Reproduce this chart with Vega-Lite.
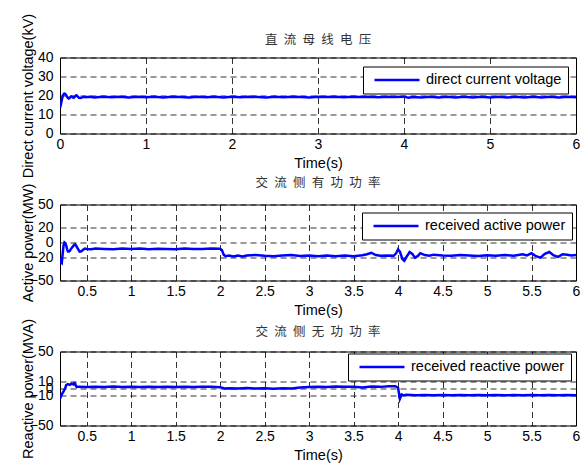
{
  "$schema": "https://vega.github.io/schema/vega-lite/v6.json",
  "padding": {"left": 19, "top": 12.5, "right": 6, "bottom": 4},
  "background": "white",
  "spacing": 71,
  "bounds": "flush",
  "resolve": {"scale": {"color": "independent", "x": "independent", "y": "independent"}, "legend": {"color": "independent"}},
  "config": {
    "font": "Liberation Sans",
    "view": {"stroke": "black", "strokeWidth": 1},
    "axis": {"domain": false, "ticks": false, "tickSize": 0, "labelFontSize": 14, "labelColor": "black", "titleFontSize": 14.5, "titleFontWeight": "normal", "titleColor": "black", "labelFont": "Liberation Sans", "titleFont": "Liberation Sans", "grid": true, "gridColor": "black", "gridDash": [6, 4], "gridWidth": 1, "gridOpacity": 0.8, "labelOverlap": false, "labelFlush": false, "format": ".1~f"},
    "axisX": {"labelPadding": 4, "titlePadding": 5},
    "axisY": {"labelPadding": 7},
    "title": {"font": "Noto Sans CJK SC", "fontSize": 12.5, "fontWeight": "normal", "color": "#333333"},
    "legend": {"orient": "none", "title": null, "strokeColor": "black", "fillColor": "white", "padding": 6, "symbolType": "stroke", "symbolSize": 2025, "symbolStrokeWidth": 2.5, "labelFontSize": 14.5, "labelFont": "Liberation Sans", "labelColor": "black", "labelOffset": 5, "symbolOffset": 4, "labelLimit": 300, "clipHeight": 15}
  },
  "datasets": {
    "dc": [
      {"t":0,"v":13.5},{"t":0.01,"v":15.2},{"t":0.02,"v":17.5},{"t":0.03,"v":19.4},{"t":0.04,"v":20.5},{"t":0.05,"v":21},{"t":0.06,"v":20.9},{"t":0.07,"v":20.3},{"t":0.08,"v":19.5},{"t":0.09,"v":18.8},{"t":0.1,"v":18.4},{"t":0.11,"v":18.6},{"t":0.12,"v":19.1},{"t":0.13,"v":19.5},{"t":0.14,"v":19.4},{"t":0.15,"v":19.0},{"t":0.16,"v":18.8},{"t":0.17,"v":19.2},{"t":0.18,"v":19.8},{"t":0.19,"v":20.1},{"t":0.2,"v":19.8},{"t":0.21,"v":19.2},{"t":0.22,"v":18.8},{"t":0.24,"v":18.7},{"t":0.26,"v":19.0},{"t":0.28,"v":19.3},{"t":0.3,"v":19.1},{"t":0.35,"v":19.3},{"t":0.4,"v":19.0},{"t":0.5,"v":19.3},{"t":0.6,"v":19.1},{"t":0.7,"v":19.4},{"t":0.8,"v":19.0},{"t":0.9,"v":19.3},{"t":1.0,"v":19.1},{"t":1.1,"v":19.3},{"t":1.2,"v":19.0},{"t":1.3,"v":19.3},{"t":1.4,"v":19.2},{"t":1.5,"v":19.0},{"t":1.6,"v":19.3},{"t":1.7,"v":19.1},{"t":1.8,"v":19.4},{"t":1.9,"v":19.0},{"t":2.0,"v":19.3},{"t":2.1,"v":19.1},{"t":2.2,"v":19.4},{"t":2.3,"v":19.2},{"t":2.4,"v":19.0},{"t":2.5,"v":19.3},{"t":2.6,"v":19.1},{"t":2.7,"v":19.4},{"t":2.8,"v":19.2},{"t":2.9,"v":19.0},{"t":3.0,"v":19.3},{"t":3.1,"v":19.2},{"t":3.2,"v":19.4},{"t":3.3,"v":19.1},{"t":3.4,"v":19.3},{"t":3.5,"v":19.2},{"t":3.6,"v":19.4},{"t":3.7,"v":19.1},{"t":3.8,"v":19.3},{"t":3.9,"v":19.2},{"t":4.0,"v":19.4},{"t":4.05,"v":18.8},{"t":4.1,"v":19.2},{"t":4.2,"v":19.0},{"t":4.3,"v":19.4},{"t":4.4,"v":18.9},{"t":4.5,"v":19.3},{"t":4.6,"v":19.0},{"t":4.7,"v":19.4},{"t":4.8,"v":18.9},{"t":4.9,"v":19.3},{"t":5.0,"v":19.0},{"t":5.1,"v":19.4},{"t":5.2,"v":18.9},{"t":5.3,"v":19.3},{"t":5.4,"v":19.0},{"t":5.5,"v":19.4},{"t":5.6,"v":18.9},{"t":5.7,"v":19.3},{"t":5.8,"v":19.0},{"t":5.9,"v":19.4},{"t":6.0,"v":19.1}
    ],
    "active": [
      {"t":0.2,"v":-20},{"t":0.21,"v":-26},{"t":0.22,"v":-27},{"t":0.23,"v":-15},{"t":0.24,"v":-4},{"t":0.25,"v":0},{"t":0.26,"v":-1},{"t":0.27,"v":-4},{"t":0.28,"v":-9},{"t":0.29,"v":-12},{"t":0.3,"v":-12},{"t":0.31,"v":-11},{"t":0.32,"v":-9},{"t":0.34,"v":-6},{"t":0.36,"v":-3},{"t":0.37,"v":-2.5},{"t":0.38,"v":-4},{"t":0.4,"v":-8},{"t":0.42,"v":-12},{"t":0.44,"v":-11.5},{"t":0.46,"v":-9.5},{"t":0.48,"v":-8},{"t":0.5,"v":-8.5},{"t":0.55,"v":-9},{"t":0.6,"v":-8},{"t":0.7,"v":-8.5},{"t":0.8,"v":-9},{"t":0.9,"v":-8},{"t":1.0,"v":-8.5},{"t":1.1,"v":-7.8},{"t":1.2,"v":-8.8},{"t":1.3,"v":-8.2},{"t":1.4,"v":-8.6},{"t":1.5,"v":-9},{"t":1.6,"v":-8},{"t":1.7,"v":-8.5},{"t":1.8,"v":-8.7},{"t":1.9,"v":-8},{"t":2.0,"v":-8.3},{"t":2.02,"v":-10},{"t":2.04,"v":-16},{"t":2.06,"v":-18},{"t":2.1,"v":-17},{"t":2.15,"v":-18.5},{"t":2.2,"v":-17},{"t":2.25,"v":-18.5},{"t":2.3,"v":-17},{"t":2.4,"v":-16.5},{"t":2.5,"v":-17.5},{"t":2.6,"v":-18.2},{"t":2.7,"v":-17},{"t":2.8,"v":-16.5},{"t":2.9,"v":-17.8},{"t":3.0,"v":-17.2},{"t":3.1,"v":-18},{"t":3.2,"v":-17},{"t":3.3,"v":-18},{"t":3.4,"v":-17.2},{"t":3.5,"v":-18},{"t":3.6,"v":-16.8},{"t":3.65,"v":-15.5},{"t":3.7,"v":-13.5},{"t":3.75,"v":-16.5},{"t":3.8,"v":-17.5},{"t":3.9,"v":-17},{"t":3.95,"v":-17.5},{"t":3.98,"v":-14},{"t":4.0,"v":-9},{"t":4.02,"v":-12},{"t":4.05,"v":-22},{"t":4.07,"v":-24},{"t":4.1,"v":-18},{"t":4.13,"v":-12.5},{"t":4.16,"v":-15},{"t":4.19,"v":-20},{"t":4.22,"v":-18},{"t":4.25,"v":-14},{"t":4.3,"v":-16.5},{"t":4.35,"v":-17.5},{"t":4.4,"v":-16},{"t":4.5,"v":-17},{"t":4.6,"v":-17.5},{"t":4.7,"v":-16.5},{"t":4.8,"v":-17},{"t":4.9,"v":-17.6},{"t":5.0,"v":-16.8},{"t":5.1,"v":-17.3},{"t":5.2,"v":-16.5},{"t":5.3,"v":-17.5},{"t":5.4,"v":-15.5},{"t":5.45,"v":-17},{"t":5.5,"v":-14},{"t":5.55,"v":-18},{"t":5.6,"v":-20},{"t":5.65,"v":-15},{"t":5.7,"v":-12.5},{"t":5.75,"v":-17},{"t":5.8,"v":-19},{"t":5.85,"v":-15.5},{"t":5.9,"v":-16},{"t":5.95,"v":-17},{"t":6.0,"v":-16.5}
    ],
    "reactive": [
      {"t":0.2,"v":-14},{"t":0.21,"v":-11},{"t":0.22,"v":-8},{"t":0.24,"v":-4},{"t":0.26,"v":1},{"t":0.27,"v":4.5},{"t":0.29,"v":6},{"t":0.31,"v":5},{"t":0.33,"v":6.5},{"t":0.35,"v":5.5},{"t":0.36,"v":7.5},{"t":0.37,"v":7},{"t":0.38,"v":3},{"t":0.39,"v":2},{"t":0.4,"v":2.5},{"t":0.5,"v":2},{"t":0.6,"v":2.5},{"t":0.7,"v":2},{"t":0.8,"v":2.6},{"t":0.9,"v":2.1},{"t":1.0,"v":2.4},{"t":1.1,"v":2},{"t":1.2,"v":2.5},{"t":1.3,"v":2.1},{"t":1.4,"v":2.4},{"t":1.5,"v":2},{"t":1.6,"v":2.5},{"t":1.7,"v":2.1},{"t":1.8,"v":2.4},{"t":1.9,"v":2.2},{"t":2.0,"v":1.8},{"t":2.05,"v":0},{"t":2.1,"v":0.5},{"t":2.2,"v":0},{"t":2.3,"v":0.6},{"t":2.4,"v":0},{"t":2.5,"v":0.5},{"t":2.6,"v":-0.2},{"t":2.7,"v":0.5},{"t":2.8,"v":0},{"t":2.9,"v":1.2},{"t":3.0,"v":2},{"t":3.1,"v":2.5},{"t":3.2,"v":2.1},{"t":3.3,"v":2.6},{"t":3.4,"v":2.2},{"t":3.5,"v":2.5},{"t":3.6,"v":1.5},{"t":3.7,"v":2.8},{"t":3.8,"v":2.2},{"t":3.9,"v":3.2},{"t":3.97,"v":3},{"t":4.0,"v":1},{"t":4.02,"v":-14},{"t":4.04,"v":-8},{"t":4.06,"v":-9.2},{"t":4.1,"v":-8.6},{"t":4.2,"v":-9.1},{"t":4.3,"v":-8.7},{"t":4.4,"v":-9.2},{"t":4.5,"v":-8.8},{"t":4.6,"v":-9.1},{"t":4.7,"v":-8.7},{"t":4.8,"v":-9.2},{"t":4.9,"v":-8.8},{"t":5.0,"v":-9.1},{"t":5.1,"v":-8.7},{"t":5.2,"v":-9.2},{"t":5.3,"v":-8.8},{"t":5.4,"v":-9.1},{"t":5.5,"v":-8.7},{"t":5.6,"v":-9.2},{"t":5.7,"v":-8.8},{"t":5.8,"v":-9.1},{"t":5.9,"v":-8.7},{"t":6.0,"v":-9}
    ]
  },
  "vconcat": [
    {
      "title": {"text": "直\u2002流\u2002母\u2002线\u2002电\u2002压", "offset": -33},
      "width": 516, "height": 76,
      "data": {"name": "dc"},
      "mark": {"type": "line", "strokeWidth": 2.5, "clip": true},
      "encoding": {
        "x": {"field": "t", "type": "quantitative", "scale": {"domain": [0, 6], "nice": false, "zero": false}, "axis": {"values": [0,1,2,3,4,5,6], "title": "Time(s)"}},
        "y": {"field": "v", "type": "quantitative", "scale": {"domain": [0, 40], "nice": false}, "axis": {"values": [0,10,20,30,40], "title": "Direct current voltage(kV)", "titleX": -28, "titleY": 38, "titleBaseline": "alphabetic"}},
        "color": {"datum": "direct current voltage", "scale": {"range": ["#0000ff"]}, "legend": {"legendX": 303, "legendY": 9}}
      }
    },
    {
      "title": {"text": "交\u2002流\u2002侧\u2002有\u2002功\u2002功\u2002率", "offset": -6},
      "width": 516, "height": 76,
      "data": {"name": "active"},
      "mark": {"type": "line", "strokeWidth": 2.5, "clip": true},
      "encoding": {
        "x": {"field": "t", "type": "quantitative", "scale": {"domain": [0.2, 6], "nice": false, "zero": false}, "axis": {"values": [0.5,1,1.5,2,2.5,3,3.5,4,4.5,5,5.5,6], "title": "Time(s)"}},
        "y": {"field": "v", "type": "quantitative", "scale": {"domain": [-50, 50], "nice": false}, "axis": {"values": [-50,-20,0,20,50], "title": "Active power(MW)", "titleX": -28, "titleY": 38, "titleBaseline": "alphabetic"}},
        "color": {"datum": "received active power", "scale": {"range": ["#0000ff"]}, "legend": {"legendX": 302, "legendY": 8}}
      }
    },
    {
      "title": {"text": "交\u2002流\u2002侧\u2002无\u2002功\u2002功\u2002率", "offset": -19.5},
      "width": 516, "height": 74,
      "data": {"name": "reactive"},
      "mark": {"type": "line", "strokeWidth": 2.5, "clip": true},
      "encoding": {
        "x": {"field": "t", "type": "quantitative", "scale": {"domain": [0.2, 6], "nice": false, "zero": false}, "axis": {"values": [0.5,1,1.5,2,2.5,3,3.5,4,4.5,5,5.5,6], "title": "Time(s)"}},
        "y": {"field": "v", "type": "quantitative", "scale": {"domain": [-50, 50], "nice": false}, "axis": {"values": [-50,-10,0,10,50], "title": "Reactive power(MVA)", "titleX": -28, "titleY": 37, "titleBaseline": "alphabetic"}},
        "color": {"datum": "received reactive power", "scale": {"range": ["#0000ff"]}, "legend": {"legendX": 288, "legendY": 2}}
      }
    }
  ]
}
